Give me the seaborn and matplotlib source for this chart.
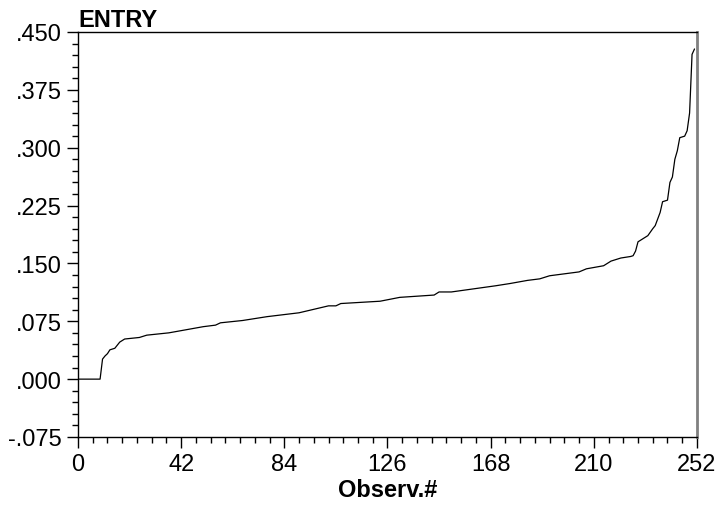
import numpy as np
import pandas as pd
import matplotlib
matplotlib.use("Agg")
import matplotlib.pyplot as plt
from matplotlib.ticker import MultipleLocator, FuncFormatter
import seaborn as sns

obs = [0, 9, 10, 11, 12, 13, 15, 17, 19, 25, 28, 37, 44, 51, 56, 58, 67, 77,
       90, 94, 98, 102, 105, 107, 123, 131, 145, 147, 152, 170, 176, 183, 188,
       192, 204, 207, 214, 217, 221, 225, 226, 227, 228, 230, 232, 234, 235,
       237, 238, 240, 241, 242, 243, 244, 245, 247, 248, 249, 250, 251]
entry = [0.000, 0.000, 0.026, 0.030, 0.033, 0.038, 0.040, 0.048, 0.052, 0.054,
         0.057, 0.060, 0.064, 0.068, 0.070, 0.073, 0.076, 0.081, 0.086, 0.089,
         0.092, 0.095, 0.095, 0.098, 0.101, 0.106, 0.109, 0.113, 0.113, 0.121,
         0.124, 0.128, 0.130, 0.134, 0.139, 0.143, 0.147, 0.153, 0.157, 0.159,
         0.160, 0.166, 0.178, 0.182, 0.186, 0.195, 0.199, 0.216, 0.230, 0.232,
         0.255, 0.262, 0.285, 0.296, 0.313, 0.315, 0.322, 0.345, 0.421, 0.428]

x_ticks = [0, 42, 84, 126, 168, 210, 252]
y_ticks = [-0.075, 0.000, 0.075, 0.150, 0.225, 0.300, 0.375, 0.450]

sns.set_style("ticks")
plt.rcParams['font.family'] = ['Liberation Sans', 'DejaVu Sans']
plt.rcParams['text.color'] = 'black'
plt.rcParams['axes.labelcolor'] = 'black'

df = pd.DataFrame({"Observ.#": obs, "ENTRY": entry})

fig = plt.figure(figsize=(7.2, 5.1), dpi=100)
ax = fig.add_axes([0.1083, 0.1412, 0.8597, 0.7941])
sns.lineplot(data=df, x="Observ.#", y="ENTRY", ax=ax, color="black", linewidth=0.9)

ax.set_xlim(0, 252)
ax.set_ylim(-0.075, 0.450)
ax.set_xticks(x_ticks)
ax.set_yticks(y_ticks)
ax.xaxis.set_minor_locator(MultipleLocator(6))
ax.yaxis.set_minor_locator(MultipleLocator(0.015))
ax.yaxis.set_major_formatter(FuncFormatter(lambda v, p: f"{v:.3f}".replace("0.", ".", 1)))

ax.tick_params(which="major", direction="out", length=8, width=1, labelsize=17,
               colors="black", labelcolor="black")
ax.tick_params(which="minor", direction="out", length=4, width=1, colors="black")

for side in ["left", "bottom", "top"]:
    ax.spines[side].set_color("black")
    ax.spines[side].set_linewidth(1.0)
ax.spines["right"].set_color("#808080")
ax.spines["right"].set_linewidth(2.0)

ax.set_xlabel("Observ.#", fontsize=17, fontweight="bold", labelpad=2, color="black")
ax.set_ylabel("")
ax.set_title("ENTRY", loc="left", fontsize=17, fontweight="bold", pad=4, color="black")

fig.savefig("out.png", dpi=100)
